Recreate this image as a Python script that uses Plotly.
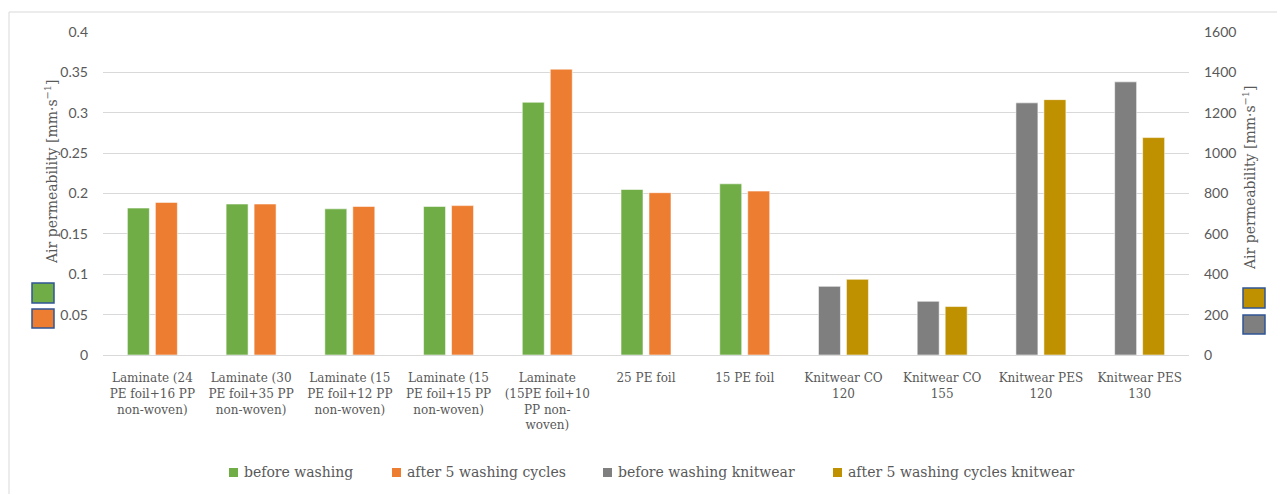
import plotly.graph_objects as go

categories = [
    "Laminate (24<br>PE foil+16 PP<br>non-woven)",
    "Laminate (30<br>PE foil+35 PP<br>non-woven)",
    "Laminate (15<br>PE foil+12 PP<br>non-woven)",
    "Laminate (15<br>PE foil+15 PP<br>non-woven)",
    "Laminate<br>(15PE foil+10<br>PP non-<br>woven)",
    "25 PE foil",
    "15 PE foil",
    "Knitwear CO<br>120",
    "Knitwear CO<br>155",
    "Knitwear PES<br>120",
    "Knitwear PES<br>130",
]
foil_cats = categories[:7]
knit_cats = categories[7:]

series_names = ["before washing", "after 5 washing cycles",
                "before washing knitwear", "after 5 washing cycles knitwear"]
before_washing = [0.182, 0.187, 0.181, 0.184, 0.313, 0.205, 0.212]
after_washing = [0.189, 0.187, 0.184, 0.185, 0.354, 0.201, 0.203]
before_knit = [340, 266, 1249, 1353]
after_knit = [375, 240, 1265, 1077]

left_ticks = [0, 0.05, 0.1, 0.15, 0.2, 0.25, 0.3, 0.35, 0.4]
left_ticktext = ["0", "0.05", "0.1", "0.15", "0.2", "0.25", "0.3", "0.35", "0.4"]
right_ticks = [0, 200, 400, 600, 800, 1000, 1200, 1400, 1600]

GREEN = "#70ad47"
ORANGE = "#ed7d31"
GRAY = "#7f7f7f"
GOLD = "#bf9000"
COLORS = [GREEN, ORANGE, GRAY, GOLD]
SERIF = "DejaVu Serif"
TXT = "#595959"

fig = go.Figure()
line = dict(color="rgba(255,255,255,0.7)", width=0.8)
fig.add_trace(go.Bar(x=foil_cats, y=before_washing, name=series_names[0],
                     marker=dict(color=GREEN, line=line), offsetgroup="a", yaxis="y"))
fig.add_trace(go.Bar(x=foil_cats, y=after_washing, name=series_names[1],
                     marker=dict(color=ORANGE, line=line), offsetgroup="b", yaxis="y"))
fig.add_trace(go.Bar(x=knit_cats, y=before_knit, name=series_names[2],
                     marker=dict(color=GRAY, line=line), offsetgroup="a", yaxis="y2"))
fig.add_trace(go.Bar(x=knit_cats, y=after_knit, name=series_names[3],
                     marker=dict(color=GOLD, line=line), offsetgroup="b", yaxis="y2"))

L, R, T, B = 103, 88, 32, 139
W, H = 1277, 494
pw, ph = W - L - R, H - T - B

def px(x):
    return (x - L) / pw

def py(y):
    return (H - B - y) / ph

fig.update_layout(
    width=W, height=H,
    margin=dict(l=L, r=R, t=T, b=B, autoexpand=False),
    paper_bgcolor="white", plot_bgcolor="white",
    barmode="group", bargap=0.433, bargroupgap=0.214,
    font=dict(family=SERIF, color=TXT, size=12),
    xaxis=dict(categoryorder="array", categoryarray=categories,
               tickfont=dict(family=SERIF, size=12, color=TXT),
               showgrid=False, showline=True, linecolor="#d9d9d9", linewidth=1,
               ticks="", tickangle=0, automargin=False, ticklabelstandoff=12),
    yaxis=dict(range=[0, 0.4], tickvals=left_ticks, ticktext=left_ticktext,
               tickfont=dict(family="Lato", size=14, color=TXT),
               showgrid=True, gridcolor="#d9d9d9", gridwidth=1,
               zeroline=False, showline=False, ticklabelstandoff=14, automargin=False),
    yaxis2=dict(range=[0, 1600], tickvals=right_ticks, overlaying="y", side="right",
                tickfont=dict(family="Lato", size=14, color=TXT),
                showgrid=False, zeroline=False, showline=False, ticklabelstandoff=14,
                automargin=False),
    showlegend=False,
)

# legend drawn as squares + text
legend_sq_x = [229, 392, 603, 833]
for name, c, sx in zip(series_names, COLORS, legend_sq_x):
    fig.add_shape(type="rect", xref="paper", yref="paper",
                  x0=px(sx), x1=px(sx + 9), y0=py(477), y1=py(468),
                  fillcolor=c, line=dict(width=0))
    fig.add_annotation(text=name, xref="paper", yref="paper", x=px(sx + 13), y=py(472),
                       xanchor="left", yanchor="middle", showarrow=False,
                       font=dict(family=SERIF, size=14, color=TXT))

title = "Air permeability [mm·s<sup>−1</sup>]"
fig.add_annotation(text=title, textangle=-90, xref="paper", yref="paper",
                   x=px(40), y=py(172), showarrow=False,
                   font=dict(family=SERIF, size=14, color=TXT))
fig.add_annotation(text=title, textangle=-90, xref="paper", yref="paper",
                   x=px(1260), y=py(178), showarrow=False,
                   font=dict(family=SERIF, size=14, color=TXT))

# chart border (left and top visible)
fig.add_shape(type="line", xref="paper", yref="paper", x0=px(9), x1=px(1290), y0=py(12), y1=py(12),
              line=dict(color="#d9d9d9", width=1))
fig.add_shape(type="line", xref="paper", yref="paper", x0=px(9), x1=px(9), y0=py(12), y1=py(500),
              line=dict(color="#d9d9d9", width=1))

# small coloured boxes beside axis titles
boxes = [
    (32, 54, 283, 303, GREEN),
    (32, 54, 309, 328, ORANGE),
    (1243, 1265, 288, 308, GOLD),
    (1243, 1265, 315, 334, GRAY),
]
for x0, x1, y0, y1, c in boxes:
    fig.add_shape(type="rect", xref="paper", yref="paper",
                  x0=px(x0), x1=px(x1), y0=py(y1), y1=py(y0),
                  fillcolor=c, line=dict(color="#2f5597", width=1.5))

fig.write_html("out.html", config={"displayModeBar": False},
               post_script="document.body.style.margin='0';document.body.style.overflow='hidden';")
